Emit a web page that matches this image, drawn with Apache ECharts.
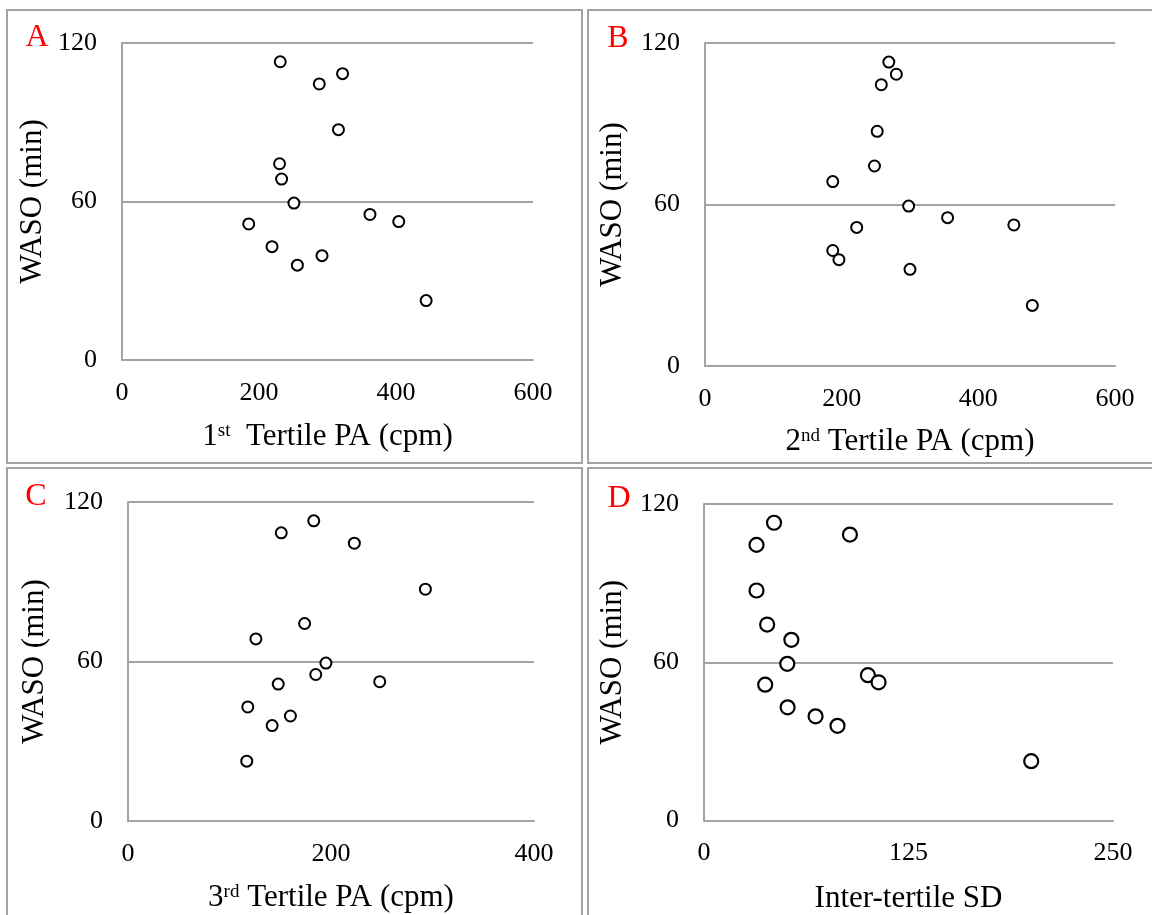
<!DOCTYPE html>
<html>
<head>
<meta charset="utf-8">
<script src="https://cdn.jsdelivr.net/npm/echarts@6/dist/echarts.min.js"></script>
<style>
  html, body { margin: 0; padding: 0; background: #fff; }
  #chart { width: 1152px; height: 915px; }
</style>
</head>
<body>
<div id="chart"></div>
<script>
// WASO (min) per subject, shared by all four panels
const waso = [112.9, 108.4, 104.5, 87.2, 74.3, 68.5, 59.4, 55.1, 52.4, 51.5, 42.9, 39.5, 35.9, 22.5]

// x values per panel, same subject order as waso
const tertile1 = [231, 322, 288, 316, 230, 233, 251, 362, 404, 185, 219, 292, 256, 444]
const tertile2 = [269, 280, 258, 252, 248, 187, 298, 355, 452, 222, 187, 196, 300, 479]
const tertile3 = [183, 151, 223, 293, 174, 126, 195, 185, 248, 148, 118, 160, 142, 117]
const interSD = [42.8, 89.2, 32.1, 32.1, 38.6, 53.4, 50.9, 100.2, 106.7, 37.4, 51.1, 68.2, 81.6, 200]

const yTicks = [0, 60, 120]
const xTicksA = [0, 200, 400, 600]
const xTicksB = [0, 200, 400, 600]
const xTicksC = [0, 200, 400]
const xTicksD = [0, 125, 250]

const panelLetters = ['A', 'B', 'C', 'D']
const xNames = ['1{s|st}  Tertile PA (cpm)', '2{s|nd} Tertile PA (cpm)', '3{s|rd} Tertile PA (cpm)', 'Inter-tertile SD']
const yName = 'WASO (min)'

const FONT = '"Liberation Serif", "Times New Roman", serif'
const GRAY = '#a3a3a3'

const panels = [
  { xs: tertile1, ticks: xTicksA, grid: { left: 122, top: 43, width: 411, height: 317 }, yGap: 74, xGap: 62, size: 11, bw: 2, letter: [37, 38] },
  { xs: tertile2, ticks: xTicksB, grid: { left: 705, top: 43, width: 410, height: 323 }, yGap: 77, xGap: 61, size: 11, bw: 2, letter: [618, 39] },
  { xs: tertile3, ticks: xTicksC, grid: { left: 128, top: 502, width: 406, height: 319 }, yGap: 78, xGap: 62, size: 11, bw: 2, letter: [36, 497] },
  { xs: interSD, ticks: xTicksD, grid: { left: 704, top: 504, width: 409, height: 318 }, yGap: 76, xGap: 63, size: 14, bw: 2.2, letter: [619, 499] }
]

const chart = echarts.init(document.getElementById('chart'))

const grids = panels.map(p => p.grid)

const xAxes = panels.map((p, i) => {
  const step = p.ticks[1] - p.ticks[0]
  return {
    type: 'value',
    gridIndex: i,
    min: p.ticks[0],
    max: p.ticks[p.ticks.length - 1],
    interval: step,
    name: xNames[i],
    nameLocation: 'middle',
    nameGap: p.xGap,
    nameTextStyle: {
      fontFamily: FONT,
      fontSize: 31,
      color: '#000',
      lineHeight: 30,
      rich: {
        s: { fontFamily: FONT, fontSize: 19, lineHeight: 18, verticalAlign: 'top', color: '#000' }
      }
    },
    axisLine: { show: true, lineStyle: { color: GRAY, width: 2 } },
    axisTick: { show: false },
    splitLine: { show: false },
    axisLabel: { fontFamily: FONT, fontSize: 26, color: '#000', margin: 20 }
  }
})

const yAxes = panels.map((p, i) => ({
  type: 'value',
  gridIndex: i,
  min: yTicks[0],
  max: yTicks[yTicks.length - 1],
  interval: yTicks[1] - yTicks[0],
  name: yName,
  nameLocation: 'middle',
  nameGap: p.yGap,
  nameTextStyle: { fontFamily: FONT, fontSize: 31, color: '#000', lineHeight: 30 },
  axisLine: { show: true, lineStyle: { color: GRAY, width: 2 } },
  axisTick: { show: false },
  splitLine: { show: true, lineStyle: { color: GRAY, width: 2 } },
  axisLabel: { fontFamily: FONT, fontSize: 26, color: '#000', margin: 25 }
}))

const series = panels.map((p, i) => ({
  type: 'scatter',
  xAxisIndex: i,
  yAxisIndex: i,
  symbol: 'circle',
  symbolSize: p.size,
  itemStyle: { color: '#fff', borderColor: '#000', borderWidth: p.bw, opacity: 1 },
  data: waso.map((y, k) => [p.xs[k], y])
}))

// panel frames and letters
const boxes = [
  { x: 7, y: 10, width: 575, height: 453 },
  { x: 588, y: 10, width: 570, height: 453 },
  { x: 7, y: 468, width: 575, height: 460 },
  { x: 588, y: 468, width: 570, height: 460 }
]
const graphic = boxes.map(b => ({
  type: 'rect',
  shape: b,
  style: { fill: 'none', stroke: GRAY, lineWidth: 2 },
  silent: true
})).concat(panels.map((p, i) => ({
  type: 'text',
  x: p.letter[0],
  y: p.letter[1],
  style: {
    text: panelLetters[i],
    fill: '#ff0000',
    font: '32px ' + FONT,
    textAlign: 'center',
    textVerticalAlign: 'middle'
  },
  silent: true
})))

chart.setOption({
  animation: false,
  grid: grids,
  xAxis: xAxes,
  yAxis: yAxes,
  series: series,
  graphic: graphic
})
</script>
</body>
</html>
